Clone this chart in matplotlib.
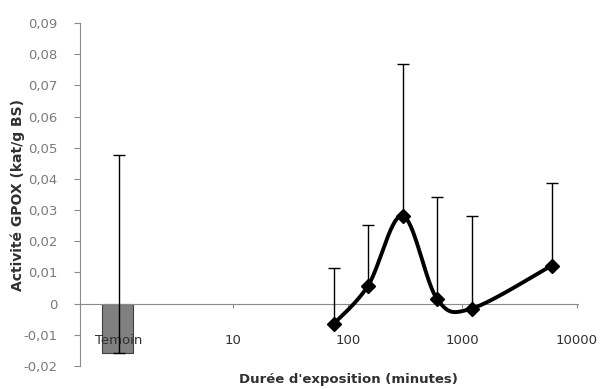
import numpy as np
import matplotlib
matplotlib.use('Agg')
import matplotlib.pyplot as plt

# Données
temoin_val = -0.0157
temoin_err = 0.0635          # barre d'erreur vers le haut

durees = [75, 150, 300, 600, 1200, 6000]
activite = [-0.0065, 0.0058, 0.0282, 0.0015, -0.0016, 0.0122]
erreur_haut = [0.0180, 0.0195, 0.0487, 0.0328, 0.0298, 0.0266]

xtick_pos = [1, 10, 100, 1000, 10000]
xtick_lab = ['Temoin', '10', '100', '1000', '10000']
ytick_pos = [-0.02, -0.01, 0, 0.01, 0.02, 0.03, 0.04, 0.05, 0.06, 0.07, 0.08, 0.09]


def excel_smooth(x, y, n=40):
    """Courbe lissée type Excel (Bezier / Catmull-Rom) en espace log-x"""
    u = np.log10(np.asarray(x, float)) * 114.5
    v = np.asarray(y, float) * 3120.0
    P = np.column_stack([u, v])
    P = np.vstack([P[0], P, P[-1]])
    pts = []
    for i in range(1, len(P) - 2):
        p0, p1, p2, p3 = P[i - 1], P[i], P[i + 1], P[i + 2]
        c1 = p1 + (p2 - p0) / 6.0
        c2 = p2 - (p3 - p1) / 6.0
        t = np.linspace(0, 1, n)[:, None]
        seg = ((1 - t) ** 3) * p1 + 3 * ((1 - t) ** 2) * t * c1 + 3 * (1 - t) * t ** 2 * c2 + t ** 3 * p2
        pts.append(seg if i == 1 else seg[1:])
    pts = np.vstack(pts)
    return 10 ** (pts[:, 0] / 114.5), pts[:, 1] / 3120.0


fig = plt.figure(figsize=(6.01, 3.89), dpi=100)
ax = fig.add_axes([80 / 601, 23 / 389, 498 / 601, 343 / 389])

ax.set_xscale('log')
ax.set_xlim(0.457, 10200)
ax.set_ylim(-0.02, 0.09)

# Barre témoin
left, right = 10 ** -0.145, 10 ** 0.125
ax.bar(left, temoin_val, width=right - left, align='edge', color='#808080',
       edgecolor='#404040', linewidth=0.8, zorder=1)
ax.errorbar([1], [temoin_val], yerr=[[0], [temoin_err]], fmt='none',
            ecolor='black', elinewidth=1, capsize=4, capthick=1, zorder=3)

# Courbe lissée
xs, ys = excel_smooth(durees, activite)
ax.plot(xs, ys, color='black', linewidth=2.8, zorder=4, solid_capstyle='round')
ax.errorbar(durees, activite, yerr=[np.zeros(len(durees)), erreur_haut], fmt='none',
            ecolor='black', elinewidth=1, capsize=4, capthick=1, zorder=3)
ax.plot(durees, activite, linestyle='none', marker='D', markersize=7,
        color='black', zorder=5)

# Axes
for s in ['top', 'right']:
    ax.spines[s].set_visible(False)
ax.spines['left'].set_color('#8c8c8c')
ax.spines['bottom'].set_position(('data', 0))
ax.spines['bottom'].set_color('#8c8c8c')

ax.set_yticks(ytick_pos)
ax.set_yticklabels([('%.2f' % v).replace('.', ',') if v != 0 else '0' for v in ytick_pos])
ax.tick_params(axis='y', direction='out', length=4, color='#8c8c8c', pad=12,
               labelsize=9.5, labelcolor='#7a7a7a')

ax.xaxis.set_minor_locator(matplotlib.ticker.NullLocator())
ax.set_xticks(xtick_pos)
ax.set_xticklabels(xtick_lab)
ax.tick_params(axis='x', direction='out', length=3, color='#8c8c8c', pad=19,
               labelsize=9.5, labelcolor='#303030')

fig.text(348 / 601, 1 - 379 / 389, "Durée d'exposition (minutes)", ha='center', va='center',
         fontsize=9.5, fontweight='bold', color='#303030')
fig.text(18 / 601, 1 - 195 / 389, 'Activité GPOX (kat/g BS)', ha='center', va='center',
         rotation=90, fontsize=10, fontweight='bold', color='#303030')

plt.savefig('out.png', dpi=100)
